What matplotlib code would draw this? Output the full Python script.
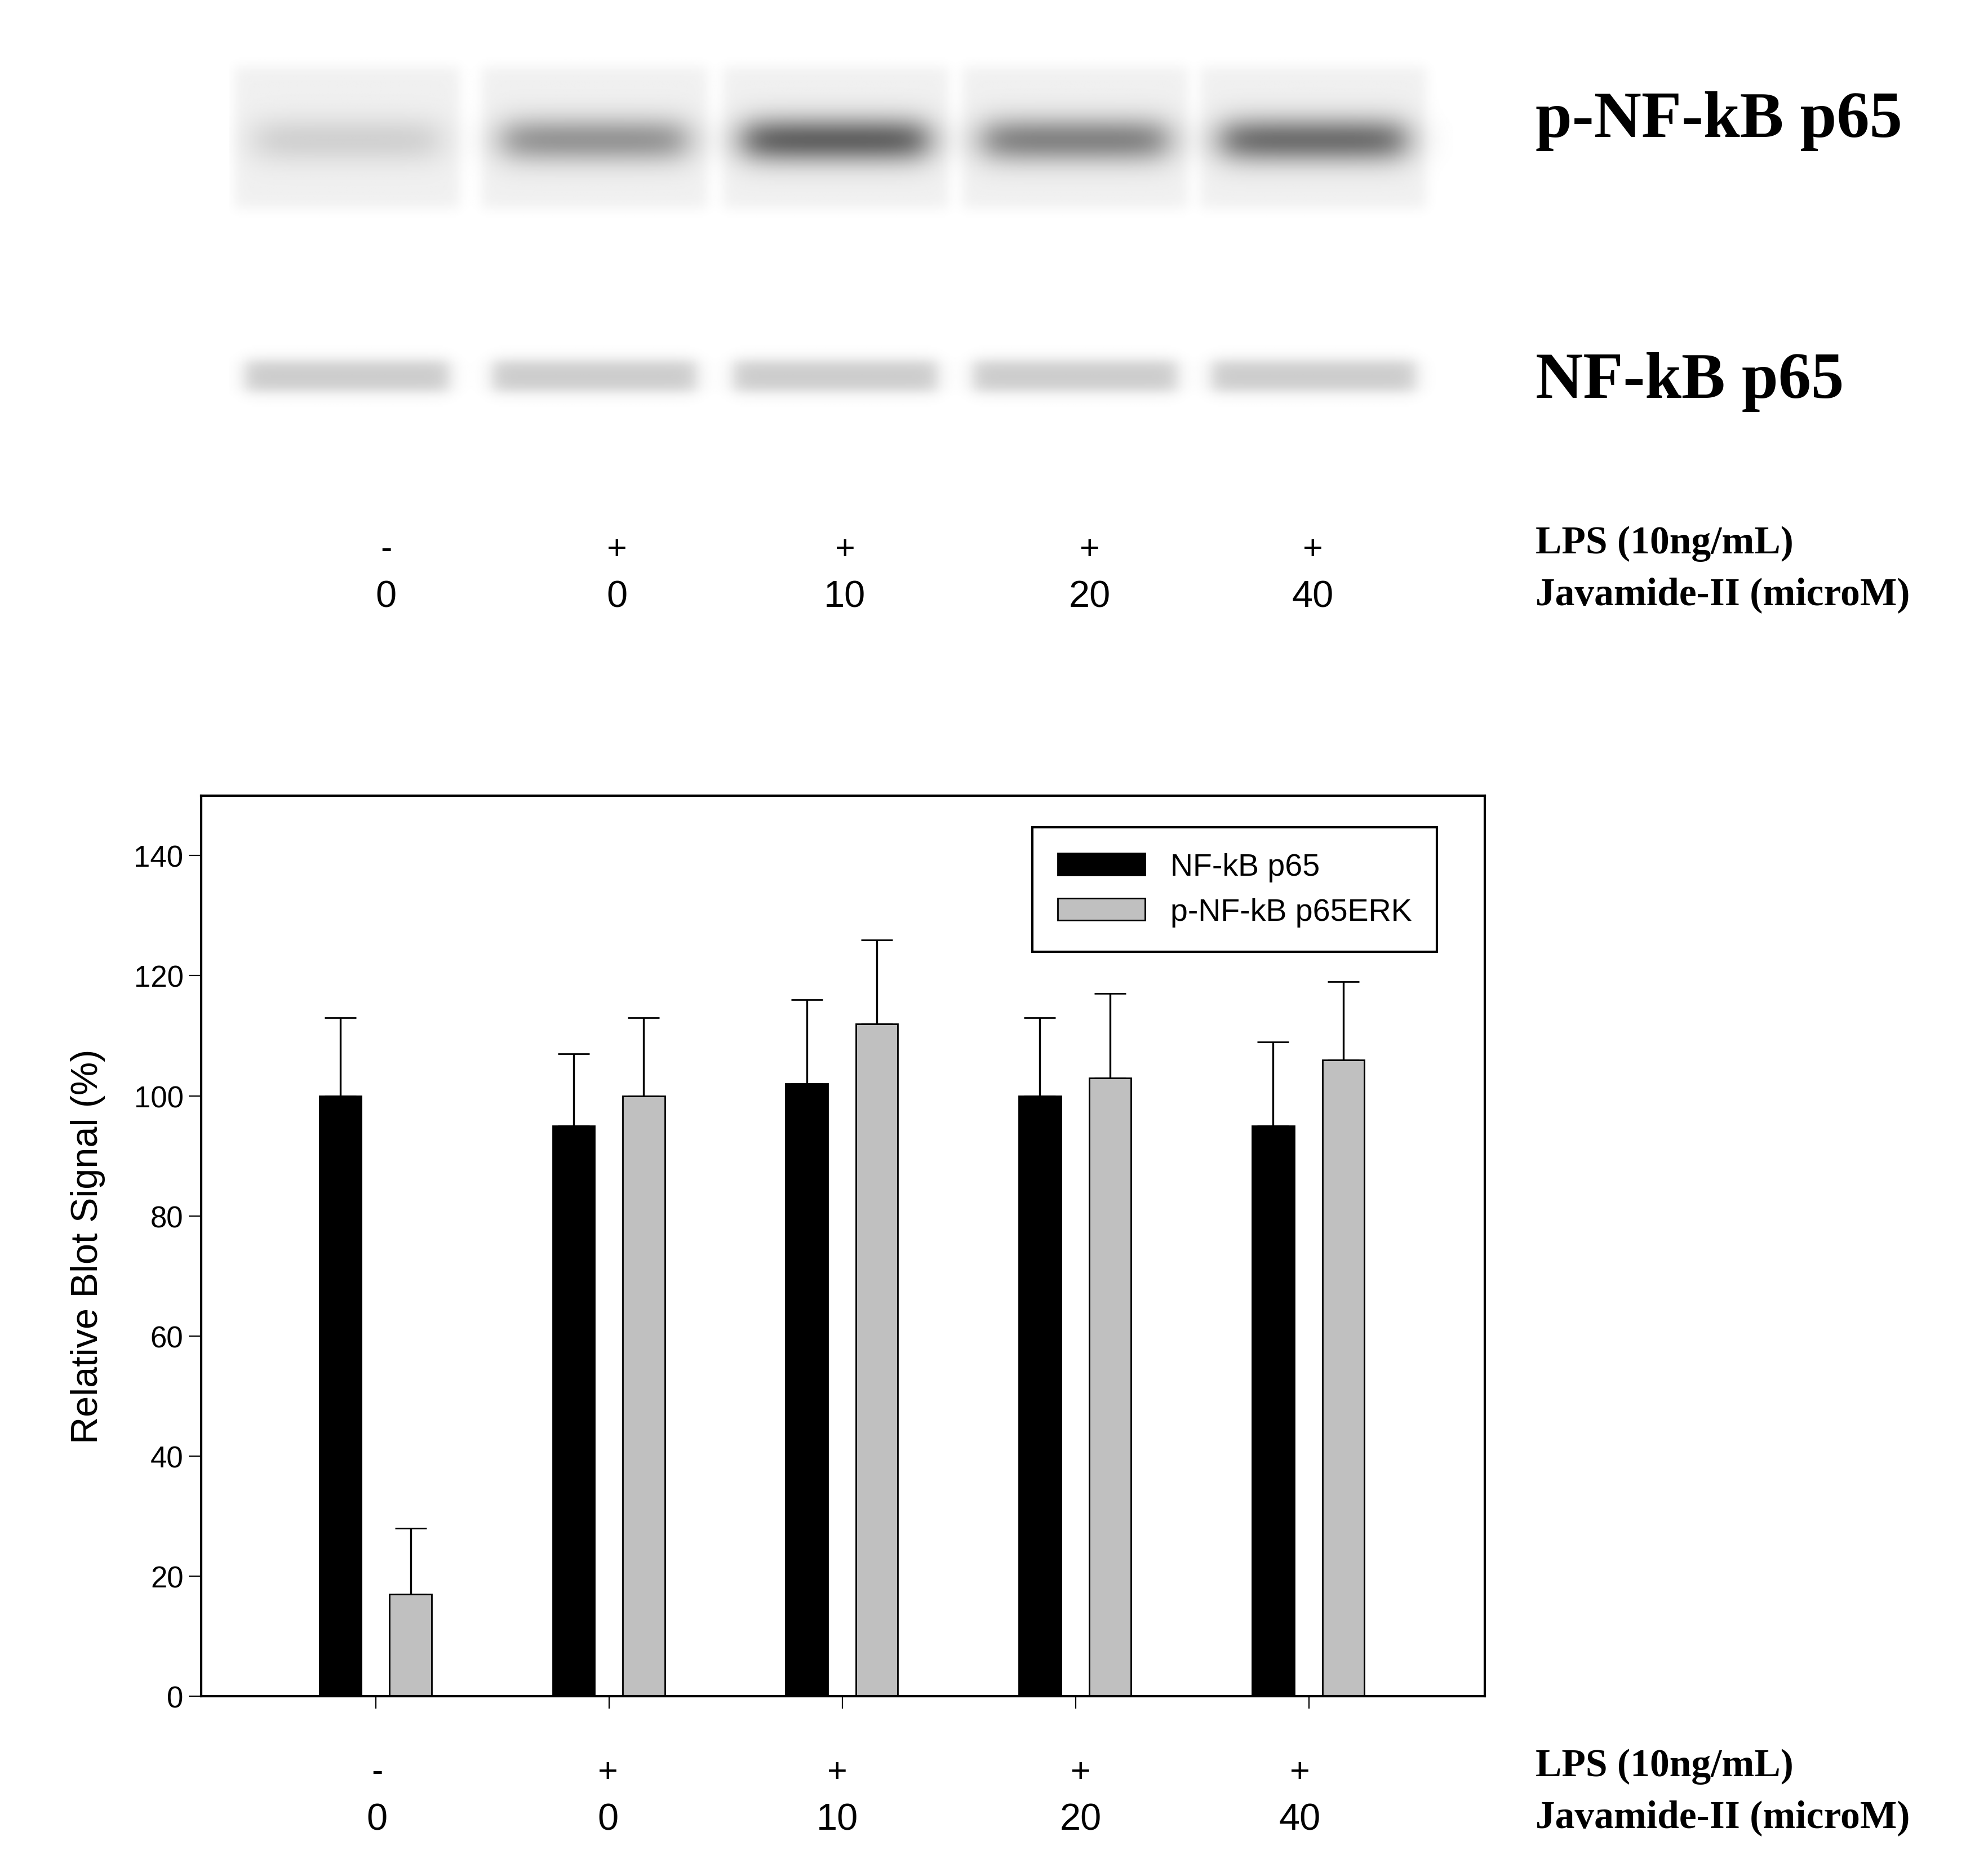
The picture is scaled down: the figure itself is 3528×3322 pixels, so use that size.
import numpy as np
import matplotlib
matplotlib.use("Agg")
import matplotlib.pyplot as plt

plt.rcParams['font.family'] = ['Liberation Sans', 'DejaVu Sans']

groups = ["0", "0", "10", "20", "40"]
lps = ["-", "+", "+", "+", "+"]
nfkb = [100, 95, 102, 100, 95]
nfkb_err = [13, 12, 14, 13, 14]
pnfkb = [17, 100, 112, 103, 106]
pnfkb_err = [11, 13, 14, 14, 13]
p_band_int = [0.12, 0.35, 0.55, 0.42, 0.5]
t_band_int = [0.2, 0.2, 0.2, 0.2, 0.2]

W, H = 1560, 1470
fig = plt.figure(figsize=(17.64, 16.615), dpi=200)
ov = fig.add_axes([0, 0, 1, 1])
ov.set_xlim(0, W); ov.set_ylim(H, 0); ov.axis("off")

xs = np.arange(180, 1140); ys = np.arange(40, 340)
X, Y = np.meshgrid(xs, ys)
img = np.zeros_like(X, dtype=float)
lane_c = [272, 466, 655, 843, 1030]
def soft(x, c, hw, e=10):
    return 1/(1+np.exp((np.abs(x-c)-hw)/e))
for c, pi, ti in zip(lane_c, p_band_int, t_band_int):
    img += 0.06*soft(X, c, 88, 3)*soft(Y, 108, 55, 3)
    img += pi*soft(X, c, 72, 8)*np.exp(-((Y-110)/18)**2)
    img += ti*soft(X, c, 80, 4)*soft(Y, 295, 12, 3)
ov.imshow(img, cmap="gray_r", vmin=0, vmax=1, extent=[180, 1140, 340, 40], aspect="auto", zorder=0)

serif = dict(family="Liberation Serif", weight="bold")
ov.text(1205, 95, "p-NF-kB p65", fontsize=42, va="center", **serif)
ov.text(1205, 300, "NF-kB p65", fontsize=42, va="center", **serif)
for y0 in (0, 960):
    ov.text(1205, 427+y0, "LPS (10ng/mL)", fontsize=25, va="center", **serif)
    ov.text(1205, 467+y0, "Javamide-II (microM)", fontsize=25, va="center", **serif)
top_x = [303, 484, 663, 855, 1030]
bot_x = [296, 477, 657, 848, 1020]
for xs_, y0 in ((top_x, 0), (bot_x, 960)):
    for x, l, g in zip(xs_, lps, groups):
        ov.text(x, 432+y0, l, fontsize=22, ha="center", va="center")
        ov.text(x, 469+y0, g, fontsize=24, ha="center", va="center")

ax = fig.add_axes([158/W, 1-1332/H, (1165-158)/W, (1332-625)/H])
x = np.arange(5)
w = 0.18
ax.bar(x-0.153, nfkb, w, color="black", edgecolor="black", label="NF-kB p65", zorder=2)
ax.bar(x+0.148, pnfkb, w, color="#c0c0c0", edgecolor="black", label="p-NF-kB p65ERK", zorder=2)
ax.errorbar(x-0.153, nfkb, yerr=[np.zeros(5), nfkb_err], fmt="none", ecolor="black", capsize=10, elinewidth=1.2, zorder=1)
ax.errorbar(x+0.148, pnfkb, yerr=[np.zeros(5), pnfkb_err], fmt="none", ecolor="black", capsize=10, elinewidth=1.2, zorder=1)
ax.set_xlim(-0.749, 4.754); ax.set_ylim(0, 150)
ax.set_yticks(range(0, 141, 20)); ax.set_xticks(x); ax.set_xticklabels([])
ax.tick_params(labelsize=19, direction="out", length=8)
ax.set_ylabel("Relative Blot Signal (%)", fontsize=24, labelpad=18)
for s in ax.spines.values():
    s.set_linewidth(1.5)
leg = ax.legend(loc="upper right", bbox_to_anchor=(0.975, 0.982), fontsize=20, fancybox=False,
                edgecolor="black", framealpha=1, handlelength=2.8, borderpad=0.8)
leg.get_frame().set_linewidth(1.5)
fig.savefig("out.png", dpi=200)
